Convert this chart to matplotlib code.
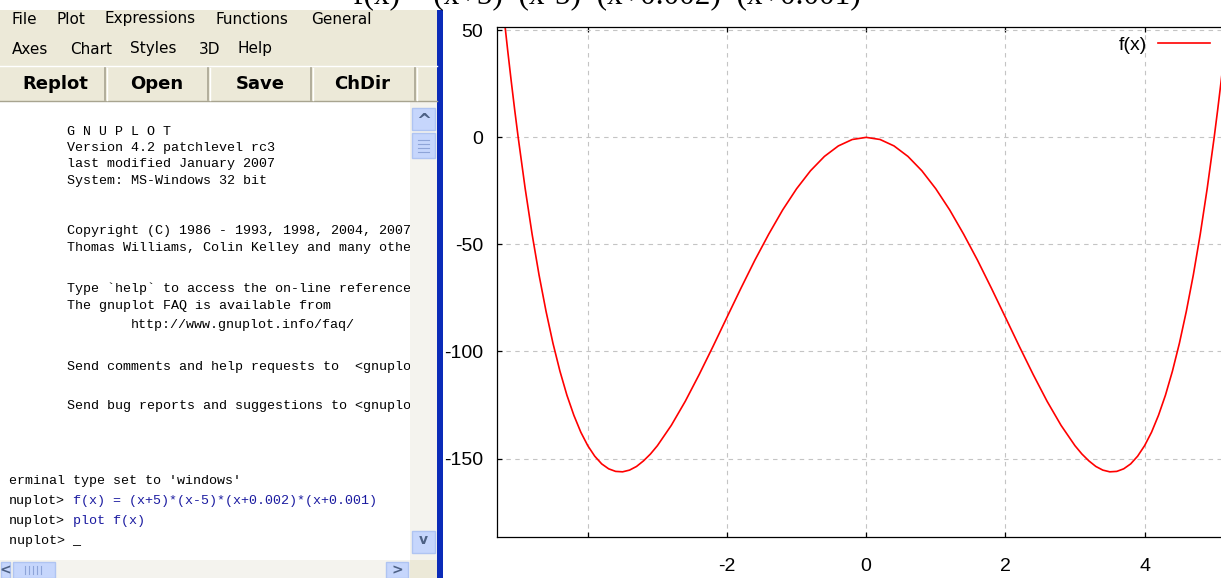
import matplotlib
matplotlib.use("Agg")
import matplotlib.pyplot as plt
from matplotlib.patches import Rectangle

plt.rcParams['axes.unicode_minus'] = False

# Valores lidos da curva f(x) no grafico do gnuplot
x_vals = [-5.3, -5.25, -5.2, -5.15, -5.1, -5.05, -5.0, -4.9, -4.8, -4.7, -4.6, -4.5,
          -4.4, -4.3, -4.2, -4.1, -4.0, -3.9, -3.8, -3.7, -3.6, -3.5, -3.4, -3.3,
          -3.2, -3.1, -3.0, -2.8, -2.6, -2.4, -2.2, -2.0, -1.8, -1.6, -1.4, -1.2,
          -1.0, -0.8, -0.6, -0.4, -0.2, 0.0, 0.2, 0.4, 0.6, 0.8, 1.0, 1.2, 1.4,
          1.6, 1.8, 2.0, 2.2, 2.4, 2.6, 2.8, 3.0, 3.1, 3.2, 3.3, 3.4, 3.5, 3.6,
          3.7, 3.8, 3.9, 4.0, 4.1, 4.2, 4.3, 4.4, 4.5, 4.6, 4.7, 4.8, 4.9, 5.0,
          5.05, 5.1, 5.15, 5.2]
f_vals = [86.8, 70.6, 55.2, 40.4, 26.3, 12.8, 0.0, -23.8, -45.2, -64.3, -81.2, -96.2,
          -109.2, -120.4, -129.8, -137.7, -144.0, -148.9, -152.5, -154.8, -156.0,
          -156.2, -155.4, -153.7, -151.1, -147.9, -144.0, -134.5, -123.3, -110.8,
          -97.6, -84.0, -70.5, -57.4, -45.2, -33.9, -24.0, -15.6, -8.9, -4.0, -1.0,
          0.0, -1.0, -4.0, -8.9, -15.6, -24.0, -33.9, -45.2, -57.4, -70.5, -84.0,
          -97.6, -110.8, -123.3, -134.5, -144.0, -147.9, -151.1, -153.7, -155.4,
          -156.2, -156.0, -154.8, -152.5, -148.9, -144.0, -137.7, -129.8, -120.4,
          -109.2, -96.2, -81.2, -64.3, -45.2, -23.8, 0.0, 12.8, 26.3, 40.4, 55.2]
x_ticks = [-4, -2, 0, 2, 4]
x_tick_labels = ['', '-2', '0', '2', '4']
y_ticks = [50, 0, -50, -100, -150]

menu_row1 = [('File', 12), ('Plot', 57), ('Expressions', 105), ('Functions', 216), ('General', 311)]
menu_row2 = [('Axes', 12), ('Chart', 70), ('Styles', 130), ('3D', 199), ('Help', 238)]
buttons = [('Replot', 55), ('Open', 157), ('Save', 260), ('ChDir', 362)]

console_lines = [
    (67, 132, 'G N U P L O T'),
    (67, 148, 'Version 4.2 patchlevel rc3'),
    (67, 164, 'last modified January 2007'),
    (67, 181, 'System: MS-Windows 32 bit'),
    (67, 231, 'Copyright (C) 1986 - 1993, 1998, 2004, 2007'),
    (67, 248, 'Thomas Williams, Colin Kelley and many others'),
    (67, 289, "Type `help` to access the on-line reference manual."),
    (67, 306, 'The gnuplot FAQ is available from'),
    (131, 325, 'http://www.gnuplot.info/faq/'),
    (67, 367, 'Send comments and help requests to  <gnuplot-info@lists.sourceforge.net>'),
    (67, 406, 'Send bug reports and suggestions to <gnuplot-bugs@lists.sourceforge.net>'),
    (9, 481, "erminal type set to 'windows'"),
    (9, 501, 'nuplot>'),
    (9, 521, 'nuplot>'),
    (9, 541, 'nuplot> _'),
]
console_cmds = [
    (73, 501, 'f(x) = (x+5)*(x-5)*(x+0.002)*(x+0.001)'),
    (73, 521, 'plot f(x)'),
]

W, H = 1221, 578
BEGE = '#ECE9D8'
MONO = 'Liberation Mono'
SANS = 'Liberation Sans'


def px_axes(fig, x0, y0, x1, y1):
    return fig.add_axes([x0 / W, 1 - y1 / H, (x1 - x0) / W, (y1 - y0) / H])


fig = plt.figure(figsize=(W / 100, H / 100), dpi=100)
fig.patch.set_facecolor('white')

# ---- janela do gnuplot (lado esquerdo) ----
win = px_axes(fig, 0, 0, 443, 578)
win.set_xlim(0, 443)
win.set_ylim(578, 0)
win.axis('off')

win.add_patch(Rectangle((0, 10), 437, 92, color=BEGE, lw=0))
win.add_patch(Rectangle((0, 102), 410, 458, color='white', lw=0))
win.add_patch(Rectangle((437, 10), 6, 568, color='#0B2BB8', lw=0))
win.plot([0, 437], [66, 66], color='white', lw=1)
win.plot([0, 437], [101, 101], color='#A8A490', lw=1)
for sx in [105, 208, 311, 415]:
    win.plot([sx, sx], [68, 100], color='#A8A490', lw=1.2)
    win.plot([sx + 2, sx + 2], [68, 100], color='white', lw=1)

for txt, xx in menu_row1:
    win.text(xx, 19, txt, fontsize=11, family='DejaVu Sans', va='center', ha='left')
for txt, xx in menu_row2:
    win.text(xx, 49, txt, fontsize=11, family='DejaVu Sans', va='center', ha='left')
for txt, xx in buttons:
    win.text(xx, 84, txt, fontsize=13, family='DejaVu Sans', weight='bold',
             va='center', ha='center')

# barras de rolagem
win.add_patch(Rectangle((410, 102), 27, 458, color='#F4F3EE', lw=0))
win.add_patch(Rectangle((0, 560), 410, 18, color='#F4F3EE', lw=0))
win.add_patch(Rectangle((410, 560), 27, 18, color=BEGE, lw=0))
for (bx, by, bw, bh) in [(412, 108, 23, 22), (412, 133, 23, 25), (412, 531, 23, 22),
                         (1, 562, 9, 16), (13, 562, 42, 16), (386, 562, 22, 16)]:
    win.add_patch(Rectangle((bx, by), bw, bh, facecolor='#C6D6FC', edgecolor='#AFC4F2', lw=1))
win.text(423.5, 121, '^', fontsize=13, weight='bold', color='#4D6185', ha='center', va='center')
win.text(423.5, 540, 'v', fontsize=10, weight='bold', color='#4D6185', ha='center', va='center')
win.text(5, 570, '<', fontsize=10, weight='bold', color='#4D6185', ha='center', va='center')
win.text(397, 570, '>', fontsize=10, weight='bold', color='#4D6185', ha='center', va='center')
for gy in [140, 144, 148, 152]:
    win.plot([418, 429], [gy, gy], color='#8EA4D8', lw=0.8)
for gx in [25, 29, 33, 37, 41]:
    win.plot([gx, gx], [566, 574], color='#8EA4D8', lw=0.8)

# texto do console (cortado na barra de rolagem)
con = px_axes(fig, 0, 102, 410, 560)
con.set_xlim(0, 410)
con.set_ylim(560, 102)
con.axis('off')
for xx, yy, txt in console_lines:
    con.text(xx, yy, txt, fontsize=9.6, family=MONO, va='center', ha='left', clip_on=True)
for xx, yy, txt in console_cmds:
    con.text(xx, yy, txt, fontsize=9.6, family=MONO, color='#1A1AA0',
             va='center', ha='left', clip_on=True)

# titulo cortado no topo
fig.text(607 / W, 1 - 3 / H, 'f(x) = (x+5)*(x-5)*(x+0.002)*(x+0.001)',
         family='Liberation Serif', fontsize=22.5, ha='center', va='baseline')

# ---- grafico ----
ax = px_axes(fig, 497.3, 27.3, 1221, 536.7)
ax.plot(x_vals, f_vals, color='#FF0000', lw=1.2, label='f(x)')
ax.set_xlim(-5.30, 5.098)
ax.set_ylim(-186.5, 51.4)
ax.set_xticks(x_ticks)
ax.set_xticklabels(x_tick_labels)
ax.set_yticks(y_ticks)
ax.grid(True, color='#C4C4C4', linestyle=(0, (4, 4)), lw=0.8)
ax.spines['right'].set_visible(False)
for s in ['left', 'top', 'bottom']:
    ax.spines[s].set_linewidth(0.9)
ax.tick_params(direction='in', length=3.5, width=0.9, top=True, right=False)
ax.tick_params(axis='x', pad=15)
ax.tick_params(axis='y', pad=10)
for lab in ax.get_xticklabels() + ax.get_yticklabels():
    lab.set_family(SANS)
    lab.set_fontsize(14)

leg = ax.legend(loc='upper right', bbox_to_anchor=(1210 / W, 1 - 36 / H),
                bbox_transform=fig.transFigure, frameon=False, markerfirst=False,
                handlelength=2.67, handletextpad=0.57, borderpad=0, borderaxespad=0,
                prop={'family': SANS, 'size': 14})

plt.savefig('out.png', dpi=100)
